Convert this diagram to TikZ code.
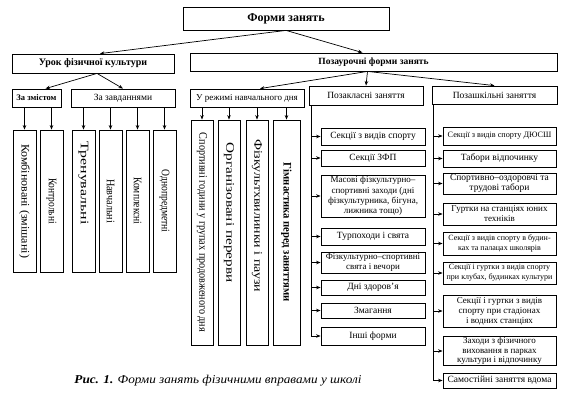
\documentclass[tikz,border=0pt]{standalone}
\usepackage{fontspec}
\setmainfont{Liberation Serif}
\usetikzlibrary{arrows.meta}
\newcommand\fs[1]{\fontsize{#1}{#1}\selectfont}
\tikzset{
  box/.style={draw, line width=0.8pt, inner sep=1pt, align=center, font=\fontsize{9}{10}\selectfont},
  vbox/.style={box, font=\fs{11.5}},
  arr/.style={line width=0.7pt, -{Stealth[length=4.5pt,width=3.5pt]}},
  ln/.style={line width=0.7pt}
}
% \bx[opts]{name}{x1}{y1}{x2}{y2}{text}
\newcommand\bx[7][]{\node[box,minimum width={(#5-#3)*1pt},minimum height={(#6-#4)*1pt},#1] (#2) at ({(#3+#5)/2},{(#4+#6)/2}) {#7};}
% \vb[opts]{name}{x1}{y1}{x2}{y2}{textlength}{text}{extra space}
\newcommand\vb[9][]{\node[vbox,minimum width={(#5-#3)*1pt},minimum height={(#6-#4)*1pt},#1] (#2) at ({(#3+#5)/2},{(#4+#6)/2}) {\rotatebox{-90}{\resizebox{#7pt}{\height}{#8}\hspace*{#9pt}}};}
\begin{document}
\begin{tikzpicture}[x=1pt,y=-1pt]
\useasboundingbox (0,0) rectangle (564,412);
% top level
\bx[font=\fs{12}\bfseries]{forms}{183}{7}{389}{30}{Форми занять}
\bx[font=\fs{10}\bfseries]{urok}{12}{54}{174}{73}{Урок фізичної культури}
\bx[font=\fs{9.5}\bfseries]{pozaur}{190}{53}{557}{71}{Позаурочні форми занять}
% second level
\bx[font=\fs{8.5}\bfseries]{zmist}{12}{89}{61}{107}{За змістом}
\bx[font=\fs{9.5}]{zavd}{71}{89}{175}{107}{За завданнями}
\bx[font=\fs{9}]{rezh}{190}{89}{304}{107}{У режимі навчального дня}
\bx[font=\fs{9.5}]{pozakl}{309}{86}{423}{105}{Позакласні заняття}
\bx[font=\fs{9.5}]{pozashk}{432}{86}{557}{104}{Позашкільні заняття}
% left vertical boxes
\vb{komb}{13}{130}{36}{272}{114}{Комбіновані (змішані)}{0}
\vb{kontr}{40}{130}{63}{272}{46}{Контрольні}{0}
\vb{tren}{72}{130}{95}{272}{83}{Тренувальні}{36}
\vb{navch}{99}{130}{122}{272}{44}{Навчальні}{0}
\vb{kompl}{126}{130}{149}{272}{47}{Комплексні}{0}
\vb{odnopr}{153}{130}{176}{272}{63}{Однопредметні}{0}
% middle vertical boxes
\vb{sport}{191}{120}{213}{345}{199}{Спортивні години у групах продовженого дня}{0}
\vb{org}{218}{120}{240}{345}{140}{Організовані перерви}{40}
\vb{fiz}{246}{120}{268}{345}{153}{Фізкультхвилинки і паузи}{34}
\vb[font=\fs{11.5}\bfseries]{gimn}{273}{120}{300}{345}{139}{Гімнастика перед заняттями}{0}
% pozaklasni items
\bx[font=\fs{9.5}]{s1}{321}{128}{425}{145}{Секції з видів спорту}
\bx[font=\fs{9.5}]{s2}{321}{150}{425}{166}{Секції ЗФП}
\bx[font=\fontsize{9}{10.2}\selectfont]{s3}{321}{175}{425}{217}{Масові фізкультурно–\\спортивні заходи (дні\\фізкультурника, бігуна,\\лижника тощо)}
\bx[font=\fs{9.5}]{s4}{321}{228}{425}{245}{Турпоходи і свята}
\bx[font=\fontsize{9}{10}\selectfont]{s5}{321}{252}{425}{273}{Фізкультурно–спортивні\\свята і вечори}
\bx[font=\fs{9.5}]{s6}{321}{280}{425}{295}{Дні здоров’я}
\bx[font=\fs{9.5}]{s7}{321}{303}{425}{318}{Змагання}
\bx[font=\fs{9.5}]{s8}{321}{327}{425}{345}{Інші форми}
% pozashkilni items
\bx[font=\fs{8.2}]{p1}{443}{127}{556}{145}{Секції з видів спорту ДЮСШ}
\bx[font=\fs{9.5}]{p2}{443}{150}{556}{167}{Табори відпочинку}
\bx[font=\fontsize{9.5}{10}\selectfont]{p3}{443}{173}{556}{194}{Спортивно–оздоровчі та\\трудові табори}
\bx[font=\fontsize{9}{10}\selectfont]{p4}{443}{203}{556}{225}{Гуртки на станціях юних\\техніків}
\bx[font=\fontsize{8}{10}\selectfont]{p5}{443}{232}{556}{255}{Секції з видів спорту в будин-\\ках та палацах школярів}
\bx[font=\fontsize{8}{10}\selectfont]{p6}{443}{262}{556}{284}{Секції і гуртки з видів спорту\\при клубах, будинках культури}
\bx[font=\fontsize{9}{10}\selectfont]{p7}{443}{295}{556}{327}{Секції і гуртки з видів\\спорту при стадіонах\\і водних станціях}
\bx[font=\fontsize{9}{9.5}\selectfont]{p8}{443}{337}{556}{365}{Заходи з фізичного\\виховання в парках\\культури і відпочинку}
\bx[font=\fs{9.5}]{p9}{443}{373}{556}{388}{Самостійні заняття вдома}
% caption
\node[font=\fs{12}, anchor=center, inner sep=0pt] (cap) at (218,381) {\resizebox{287pt}{\height}{\textbf{\textit{Рис. 1.}} \textit{Форми занять фізичними вправами у школі}}};
% arrows top
\draw[arr] (forms.south) -- ([xshift=7pt]urok.north);
\draw[arr] (forms.south) -- ([xshift=-11pt]pozaur.north);
\draw[arr] ([xshift=4pt]urok.south) -- ([xshift=9pt]zmist.north);
\draw[arr] ([xshift=4pt]urok.south) -- (zavd.north);
\draw[arr] ([xshift=-6pt]pozaur.south) -- ([xshift=13pt]rezh.north);
\draw[arr] ([xshift=-6pt]pozaur.south) -- (pozakl.north);
\draw[arr] ([xshift=-6pt]pozaur.south) -- (pozashk.north);
% arrows to vertical boxes
\foreach \n in {komb,kontr} \draw[arr] (zmist.south -| \n.north) -- (\n.north);
\foreach \n in {tren,navch,kompl,odnopr} \draw[arr] (zavd.south -| \n.north) -- (\n.north);
\foreach \n in {sport,org,fiz,gimn} \draw[arr] (rezh.south -| \n.north) -- (\n.north);
% list connectors
\coordinate (lk) at ([xshift=2.5pt]pozakl.south west);
\draw[ln] (lk) -- (lk |- s8.west);
\foreach \n in {s1,s2,s3,s4,s5,s6,s7,s8} \draw[arr] (lk |- \n.west) -- (\n.west);
\coordinate (lp) at ([xshift=2pt]pozashk.south west);
\draw[ln] (lp) -- (lp |- p9.west);
\foreach \n in {p1,p2,p3,p4,p5,p6,p7,p8,p9} \draw[arr] (lp |- \n.west) -- (\n.west);
\end{tikzpicture}
\end{document}
